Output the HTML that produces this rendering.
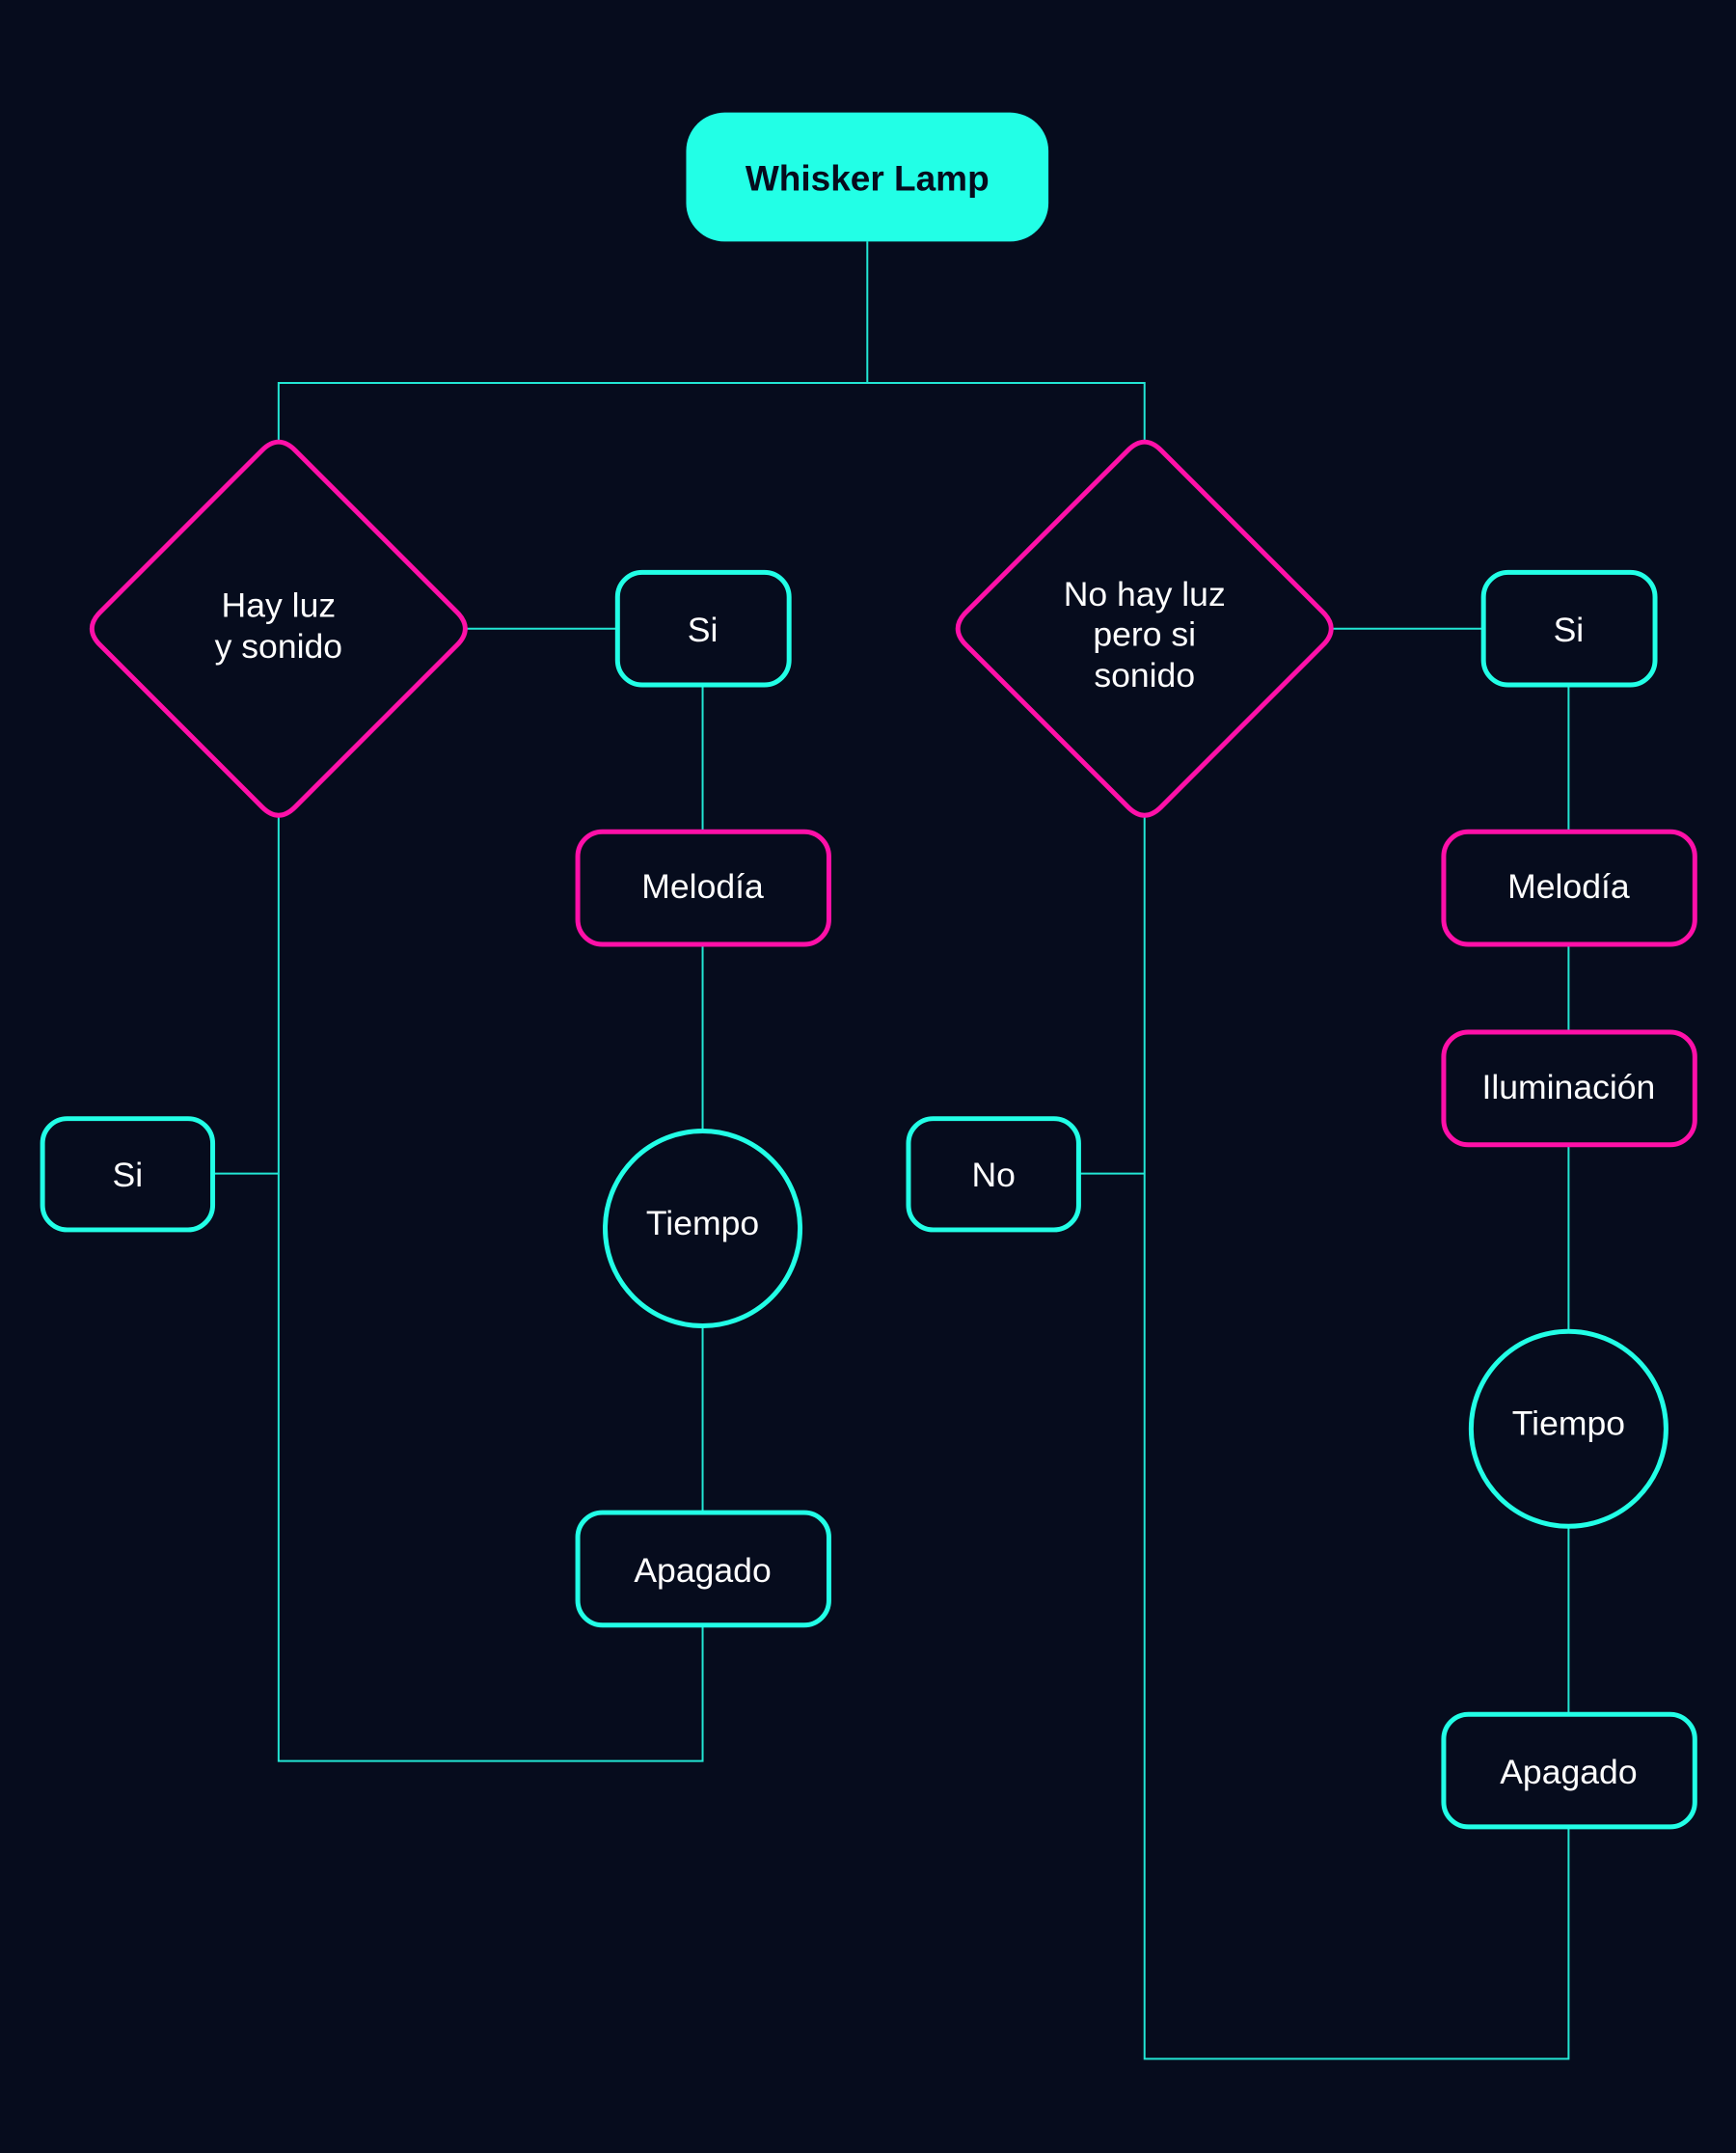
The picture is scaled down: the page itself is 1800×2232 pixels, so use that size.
<!DOCTYPE html>
<html><head><meta charset="utf-8"><style>
html,body{margin:0;padding:0;background:#060c1d;}
svg{display:block}
text{font-family:"Liberation Sans",sans-serif;fill:#fff;text-anchor:middle;dominant-baseline:central;font-size:25px}
</style></head><body>
<svg width="1800" height="2232" viewBox="0 0 1265 1568.6" preserveAspectRatio="none">
<rect width="1265" height="1569" fill="#060c1d"/>
<g stroke="#22e6d4" stroke-width="1.4" fill="none">
<path d="M632 176V279M203 321V279H834V321"/>
<path d="M340 458H450M512 499V606M512 688V824M512 966V1102M512 1184V1283H203V595"/>
<path d="M155 855H203"/>
<path d="M971 458H1081M1143 499V606M1143 688V752M1143 834V970M1143 1112V1249M1143 1331V1500H834V595"/>
<path d="M786 855H834"/>
</g>
<rect x="500" y="82" width="264" height="94" rx="28" fill="#22ffe6"/>
<text x="632" y="130" style="fill:#060c1d;font-weight:bold;font-size:26px">Whisker Lamp</text>
<g stroke="#ff10a8" stroke-width="3.5" fill="none" stroke-linejoin="round">
<path d="M191 328Q203 316 215 328L333 446Q345 458 333 470L215 588Q203 600 191 588L73 470Q61 458 73 446Z"/>
<path d="M822 328Q834 316 846 328L964 446Q976 458 964 470L846 588Q834 600 822 588L704 470Q692 458 704 446Z"/>
<rect x="421" y="606" width="183" height="82" rx="18"/>
<rect x="1052" y="606" width="183" height="82" rx="18"/>
<rect x="1052" y="752" width="183" height="82" rx="18"/>
</g>
<g stroke="#22ffe6" stroke-width="3.5" fill="none">
<rect x="450" y="417" width="125" height="82" rx="18"/>
<rect x="1081" y="417" width="125" height="82" rx="18"/>
<rect x="31" y="815" width="124" height="81" rx="18"/>
<rect x="662" y="815" width="124" height="81" rx="18"/>
<circle cx="512" cy="895" r="71"/>
<circle cx="1143" cy="1041" r="71"/>
<rect x="421" y="1102" width="183" height="82" rx="18"/>
<rect x="1052" y="1249" width="183" height="82" rx="18"/>
</g>
<text x="203" y="441">Hay luz</text>
<text x="203" y="471">y sonido</text>
<text x="834" y="433">No hay luz</text>
<text x="834" y="462">pero si</text>
<text x="834" y="492">sonido</text>
<text x="512" y="459">Si</text>
<text x="1143" y="459">Si</text>
<text x="93" y="856">Si</text>
<text x="724" y="856">No</text>
<text x="512" y="646">Melodía</text>
<text x="1143" y="646">Melodía</text>
<text x="1143" y="792">Iluminación</text>
<text x="512" y="891">Tiempo</text>
<text x="1143" y="1037">Tiempo</text>
<text x="512" y="1144">Apagado</text>
<text x="1143" y="1291">Apagado</text>
</svg>
</body></html>
